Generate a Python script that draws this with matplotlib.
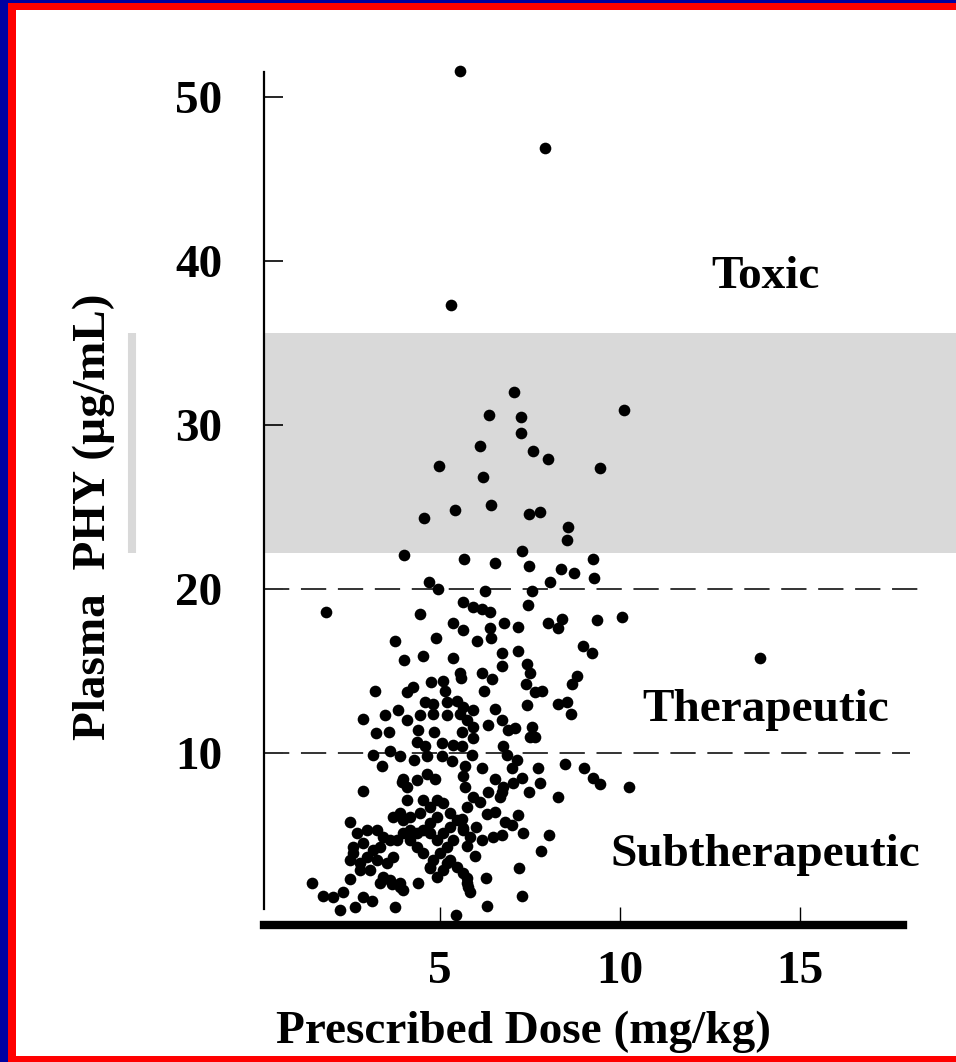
import matplotlib
matplotlib.use("Agg")
import matplotlib.pyplot as plt
from matplotlib.patches import Rectangle

# dose (mg/kg) vs plasma phenytoin level (ug/mL)
dose = [5.56, 7.92, 5.31, 13.9, 1.83, 10.1, 9.44, 10.25,
        7.06, 6.36, 7.25, 7.25, 6.11, 7.58, 8.0, 6.19, 6.42, 7.47, 7.78, 8.56,
        8.53, 7.28, 5.67, 6.53, 9.25, 7.47, 8.36, 8.72, 9.28, 8.06, 6.25, 7.56,
        5.64, 5.92, 6.17, 6.39, 7.44, 8.39, 8.0, 8.28, 9.36, 10.06, 5.64, 6.78,
        7.17, 6.39, 6.42, 6.03, 8.97,
        4.97, 5.42, 4.56, 4.0, 4.69, 4.94, 4.44, 5.36, 3.75, 4.89,
        4.0, 4.53, 5.36, 5.56, 5.58, 3.19, 4.08, 4.25, 4.75, 5.08, 5.14, 4.58,
        4.81, 5.19, 5.47, 3.83, 3.47, 2.86, 4.08, 4.44, 4.81, 5.19, 5.56, 3.22,
        3.58, 4.39, 4.83, 4.36, 4.58, 5.06, 5.36, 5.61, 3.14, 3.61, 3.89, 4.28,
        4.64, 5.06, 5.33, 3.39, 4.64, 4.86, 5.69, 3.97, 2.86, 2.5, 1.44, 1.75,
        2.03, 2.31, 2.22, 2.64, 2.86, 3.11, 2.5, 3.33, 3.67, 3.89, 3.75, 4.39,
        5.44, 4.72, 5.19,
        9.22, 6.72, 7.17, 6.72, 7.42, 7.5, 6.17, 6.44, 6.22, 7.39, 8.81, 8.67,
        7.83, 7.64, 7.42, 8.28, 8.53, 8.64, 6.53, 5.64, 5.92, 6.33, 6.72, 5.75,
        5.92, 6.89, 7.08, 7.56, 7.64, 7.5, 5.92, 6.75, 5.89, 6.86, 7.14, 6.17,
        7.0, 7.72, 7.78, 8.47, 9.0, 9.25, 9.44, 6.53, 6.75, 7.03, 7.28, 7.47,
        8.28, 5.69, 5.92, 6.33, 6.72, 6.67, 5.75, 6.11, 6.31, 6.53, 7.17, 6.81,
        7.0, 7.31, 8.03, 7.81, 5.83, 6.17, 6.47, 6.72, 5.75, 5.97, 7.19, 6.28,
        5.75, 5.78, 5.83, 7.28, 6.31,
        3.94, 4.07, 4.35, 4.54, 4.07, 3.89, 3.70, 4.17, 4.44, 4.72, 4.91, 5.09,
        5.28, 4.91, 4.72, 4.54, 4.35, 4.17, 3.98, 4.72, 4.91, 5.09, 5.28, 5.46,
        5.65, 5.37, 5.19, 5.00, 4.81, 5.28, 5.46, 5.65, 5.74, 5.09, 4.91, 4.72,
        4.54, 4.35, 4.17, 3.98, 3.80,
        2.69, 2.96, 3.24, 3.43, 2.87, 3.15, 3.33, 3.61, 2.59, 2.50, 2.78, 2.96,
        2.78, 3.06, 3.52, 3.70, 2.59, 3.24, 3.43, 3.61, 3.89, 3.98,
        5.6, 5.65, 5.6, 5.65, 6.0]
level = [51.6, 46.9, 37.3, 15.8, 18.6, 30.9, 27.4, 7.9,
         32.0, 30.6, 30.5, 29.5, 28.7, 28.4, 27.9, 26.8, 25.1, 24.6, 24.7, 23.8,
         23.0, 22.3, 21.8, 21.6, 21.8, 21.4, 21.2, 21.0, 20.7, 20.4, 19.9, 19.9,
         19.2, 18.9, 18.8, 18.6, 19.0, 18.2, 17.9, 17.6, 18.1, 18.3, 17.5, 17.9,
         17.7, 17.6, 17.0, 16.8, 16.5,
         27.5, 24.8, 24.3, 22.1, 20.4, 20.0, 18.5, 17.9, 16.8, 17.0,
         15.7, 15.9, 15.8, 14.9, 14.6, 13.8, 13.7, 14.0, 14.3, 14.4, 13.8, 13.1,
         13.0, 13.1, 13.2, 12.6, 12.3, 12.1, 12.0, 12.3, 12.4, 12.3, 12.4, 11.2,
         11.3, 11.4, 11.3, 10.7, 10.4, 10.6, 10.5, 10.4, 9.9, 10.1, 9.8, 9.6,
         9.8, 9.8, 9.5, 9.2, 8.7, 8.4, 9.2, 8.4, 7.7, 5.8, 2.1, 1.3,
         1.2, 1.5, 0.4, 0.6, 1.2, 1.0, 2.3, 2.1, 2.0, 1.8, 0.6, 2.1,
         0.1, 3.0, 3.3,
         16.1, 16.1, 16.2, 15.3, 15.4, 14.9, 14.9, 14.5, 13.8, 14.2, 14.7, 14.2,
         13.8, 13.7, 12.9, 13.0, 13.1, 12.4, 12.7, 12.8, 12.6, 11.7, 12.0, 12.0,
         11.6, 11.4, 11.5, 11.6, 11.0, 11.0, 10.9, 10.4, 9.9, 9.9, 9.6, 9.1,
         9.1, 9.1, 8.2, 9.3, 9.1, 8.5, 8.1, 8.4, 7.9, 8.2, 8.5, 7.6,
         7.3, 7.9, 7.3, 7.6, 7.6, 7.3, 6.7, 7.0, 6.3, 6.4, 6.2, 5.8,
         5.6, 5.1, 5.0, 4.0, 4.9, 4.7, 4.9, 5.0, 4.3, 3.7, 3.0, 2.4,
         2.4, 1.8, 1.5, 1.3, 0.7,
         8.25, 7.95, 8.36, 7.13, 7.13, 6.32, 6.12, 6.12, 6.32, 6.73, 7.13, 6.93,
         6.32, 6.12, 5.71, 5.30, 5.10, 5.30, 5.92, 5.10, 4.70, 5.10, 5.51, 5.92,
         5.30, 4.70, 4.29, 3.88, 3.48, 3.48, 3.07, 2.66, 2.05, 2.86, 2.46, 3.07,
         3.88, 4.29, 4.70, 5.10, 4.70,
         5.10, 5.30, 5.30, 4.90, 4.49, 4.09, 4.29, 4.70, 3.88, 3.48, 3.27, 3.68,
         2.86, 2.86, 3.27, 3.68, 4.29, 3.48, 2.46, 2.26, 2.05, 1.65,
         11.3, 8.6, 6.0, 5.4, 5.5]

x_ticks = [5, 10, 15]
y_ticks = [10, 20, 30, 40, 50]
toxic_band = (22.2, 35.6)
zone_names = ["Toxic", "Therapeutic", "Subtherapeutic"]
zone_y = [39.0, 12.6, 3.8]

plt.rcParams['font.family'] = ['Liberation Serif', 'DejaVu Serif']
plt.rcParams['font.weight'] = 'bold'

W, H = 956, 1062
fig = plt.figure(figsize=(W / 100, H / 100), dpi=100, facecolor='white')

# frame round the slide
def px_rect(x0, y0, x1, y1, color):
    fig.patches.append(Rectangle((x0 / W, 1 - y1 / H), (x1 - x0) / W, (y1 - y0) / H,
                                 transform=fig.transFigure, color=color, lw=0))

px_rect(0, 0, 8, H, '#0000a0')
px_rect(0, 0, W, 3, '#0000a0')
px_rect(8, 3, 16, H, '#ff0000')
px_rect(8, 3, W, 10, '#ff0000')
px_rect(8, 1056, W, H, '#ff0000')

# axes: x=0 at px 260, 36 px per mg/kg; y=0 at px 917, 16.4 px per ug/mL
ax_l, ax_r, ax_t, ax_b = 264, 956, 60, 925
ax = fig.add_axes([ax_l / W, 1 - ax_b / H, (ax_r - ax_l) / W, (ax_b - ax_t) / H])
ax.set_xlim((ax_l - 260) / 36, (ax_r - 260) / 36)
ax.set_ylim((917 - ax_b) / 16.4, (917 - ax_t) / 16.4)
ax.set_facecolor('none')

ax.axhspan(toxic_band[0], toxic_band[1], color='#d9d9d9', lw=0, zorder=0)
ax.plot([-3.56, -3.56], toxic_band, color='#d9d9d9', lw=5.8, clip_on=False,
        solid_capstyle='butt')

ax.plot([0.1, 18.3], [20, 20], color='#333333', lw=1.4, dashes=(13, 6))
ax.plot([0.1, 18.05], [10, 10], color='#333333', lw=1.4, dashes=(13, 6))

ax.plot(dose, level, 'o', color='black', ms=8.4, mew=0, zorder=3)

for name, yv in zip(zone_names, zone_y):
    ax.text(14.05, yv, name, fontsize=34, fontweight='bold', ha='center', va='center')

for s in ['top', 'right']:
    ax.spines[s].set_visible(False)
ax.spines['left'].set_bounds(0.5, 51.5)
ax.spines['left'].set_linewidth(1.6)
ax.spines['bottom'].set_bounds(0.11, 17.86)
ax.spines['bottom'].set_linewidth(6)

ax.set_xticks(x_ticks)
ax.set_xticklabels([str(v) for v in x_ticks])
ax.set_yticks(y_ticks)
ax.set_yticklabels([str(v) for v in y_ticks])
ax.tick_params(axis='x', direction='in', length=13, width=1, pad=19, labelsize=34)
ax.tick_params(axis='y', direction='in', length=14, width=1.2, pad=30, labelsize=34)

ax.set_xlabel('Prescribed Dose (mg/kg)', fontsize=34, fontweight='bold')
ax.set_ylabel('Plasma  PHY (µg/mL)', fontsize=34, fontweight='bold')
ax.yaxis.set_label_coords((94 - ax_l) / (ax_r - ax_l), (ax_b - 517) / (ax_b - ax_t))
ax.xaxis.set_label_coords((523 - ax_l) / (ax_r - ax_l), (ax_b - 1032) / (ax_b - ax_t))
ax.xaxis.label.set_va('center')
ax.yaxis.label.set_va('center')

fig.savefig('out.png', dpi=100, facecolor='white')
